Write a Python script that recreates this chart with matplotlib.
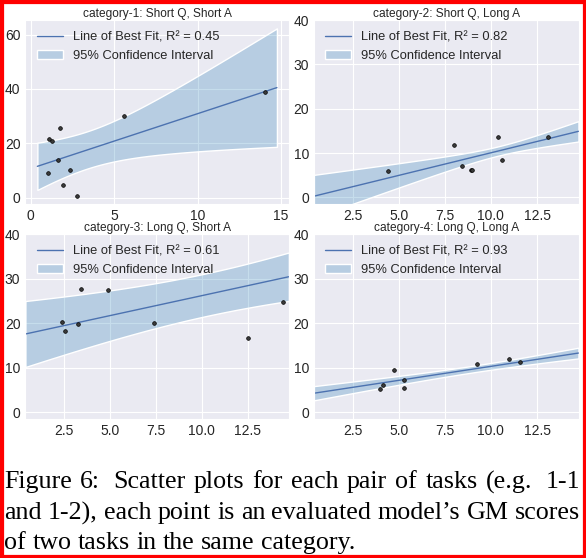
import numpy as np
import matplotlib
matplotlib.use("Agg")
import matplotlib.pyplot as plt
import seaborn as sns
from matplotlib.patches import Rectangle

sns.set_style("darkgrid")
plt.rcParams['font.family'] = ['Liberation Sans', 'DejaVu Sans']

# panel titles and R^2 shown in the legends
titles = ["category-1: Short Q, Short A", "category-2: Short Q, Long A",
          "category-3: Long Q, Short A", "category-4: Long Q, Long A"]
r2 = [0.45, 0.82, 0.61, 0.93]

# model scores, one array per panel (task a vs task b)
x1 = [1.04, 1.10, 1.26, 1.78, 1.64, 2.33, 1.92, 2.79, 5.61, 14.04]
y1 = [8.9, 21.4, 20.7, 25.5, 13.9, 10.1, 4.5, 0.7, 30.2, 38.7]
x2 = [4.41, 7.98, 8.44, 8.91, 8.98, 10.37, 10.62, 13.11]
y2 = [5.9, 11.75, 7.05, 6.2, 6.07, 13.6, 8.5, 13.5]
x3 = [2.40, 2.53, 3.28, 3.42, 4.92, 7.43, 12.52, 14.42]
y3 = [20.2, 18.3, 19.9, 27.8, 27.5, 20.1, 16.8, 24.9]
x4 = [3.97, 4.13, 4.76, 5.27, 5.31, 9.27, 11.0, 11.58]
y4 = [5.2, 6.1, 9.4, 7.3, 5.5, 10.9, 12.0, 11.4]
xs = [x1, x2, x3, x4]
ys = [y1, y2, y3, y4]

# fitted line and confidence band
slopes = [2.021, 1.02, 0.897, 0.629]
intercepts = [10.69, -0.15, 17.24, 4.04]
ci_center = [3.35, 10.4, 10.26, 9.0]    # x where the band is narrowest
ci_min = [6.87, 1.05, 4.8, 0.75]         # half width there
ci_spread = [1.817, 0.47, 0.573, 0.164]  # growth of half width away from it
fit_range = (0.4, 14.75)

# double spaces mark the wider sentence gaps
caption_lines = [
    "Figure 6:  Scatter plots for each pair of tasks (e.g.  1-1",
    "and 1-2), each point is an evaluated model\u2019s GM scores",
    "of two tasks in the same category.",
]

W, H = 586, 558
fig = plt.figure(figsize=(W / 100, H / 100), dpi=100)

# axes boxes in pixels: left, top, right, bottom
boxes = [(25.4, 20, 288.9, 204), (313.9, 20, 578.5, 204),
         (25.4, 234.3, 288.9, 419), (313.9, 234.3, 578.5, 419)]

for i in range(4):
    l, t, r, b = boxes[i]
    ax = fig.add_axes([l / W, 1 - b / H, (r - l) / W, (b - t) / H])
    xf = np.linspace(fit_range[0], fit_range[1], 200)
    yf = slopes[i] * xf + intercepts[i]
    half = np.sqrt(ci_min[i] ** 2 + (ci_spread[i] * (xf - ci_center[i])) ** 2)
    ax.fill_between(xf, yf - half, yf + half, facecolor=(0.12, 0.47, 0.71, 0.25),
                    edgecolor='white', linewidth=1, label='95% Confidence Interval')
    ax.plot(xf, yf, color='#4C72B0', lw=1,
            label='Line of Best Fit, R\u00b2 = %.2f' % r2[i])
    ax.scatter(xs[i], ys[i], s=7, color='#3a3a3a', edgecolor='black',
               linewidth=0.5, zorder=3)
    if i > 0:
        ax.set_xlim(fit_range)
        ax.set_ylim(-1.5, 40)
    ax.set_title(titles[i], fontsize=8.6, pad=2.4, color='.15')
    ax.tick_params(labelsize=10, colors='.15', length=0, pad=3.6)
    h, lab = ax.get_legend_handles_labels()
    ax.legend(h[::-1], lab[::-1], loc='upper left', fontsize=9.25, frameon=False)

# caption, justified like the paper text
renderer = fig.canvas.get_renderer()
x_left, x_right = 4, 580
baselines = [488.3, 519.3, 549.3]
for i, line in enumerate(caption_lines):
    words, weights = [], []
    for part in line.split(' '):
        if part == '':
            weights[-1] = 1.6
        else:
            words.append(part)
            weights.append(1.0)
    weights = weights[:-1]
    texts = [fig.text(0, 1 - baselines[i] / H, w, fontsize=18.7,
                      family='Liberation Serif', color='black') for w in words]
    widths = [tx.get_window_extent(renderer).width for tx in texts]
    if i < len(caption_lines) - 1:
        unit = (x_right - x_left - sum(widths)) / sum(weights)
    else:
        unit = 6.5
    x = x_left
    for k, (tx, wd) in enumerate(zip(texts, widths)):
        tx.set_x(x / W)
        if k < len(weights):
            x += wd + unit * weights[k]

# red frame around the screenshot
fig.patches.append(Rectangle((0, 0), 1, 1, transform=fig.transFigure, fill=False,
                             edgecolor='red', linewidth=5.2))

fig.savefig('out.png', dpi=100)
